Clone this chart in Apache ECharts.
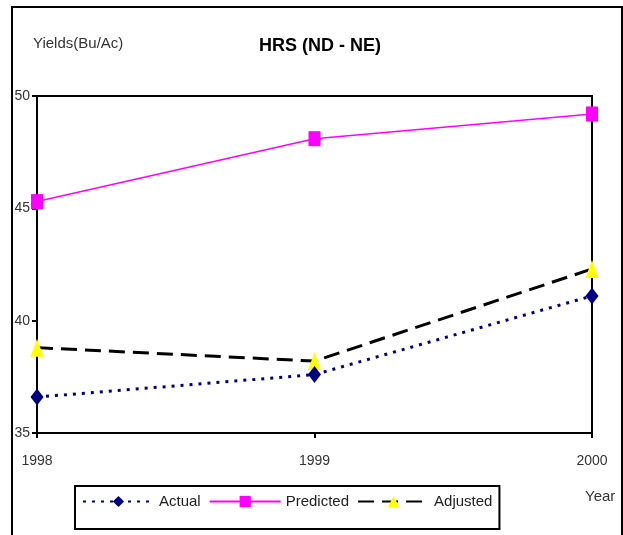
<!DOCTYPE html>
<html>
<head>
<meta charset="utf-8">
<script src="https://cdn.jsdelivr.net/npm/echarts@6/dist/echarts.min.js"></script>
<style>html,body{margin:0;padding:0;background:#fff;}#c{width:623px;height:535px;}</style>
</head>
<body>
<div id="c"></div>
<script>
const years = ['1998', '1999', '2000'];
const actual = [36.6, 37.6, 41.1];
const predicted = [45.3, 48.1, 49.2];
const adjusted = [38.8, 38.2, 42.3];
const yTicks = [35, 40, 45, 50];

const chart = echarts.init(document.getElementById('c'), null, {renderer: 'canvas'});
const font = 'Liberation Sans, Arial, sans-serif';
chart.setOption({
  animation: false,
  backgroundColor: '#fff',
  textStyle: {fontFamily: font},
  title: {
    text: 'HRS (ND - NE)', left: 315, top: 32, textAlign: 'center',
    textStyle: {fontFamily: font, fontWeight: 'bold', fontSize: 18, color: '#000'}
  },
  grid: {left: 37, top: 96, width: 555, height: 337, show: true, borderColor: '#000', borderWidth: 2, backgroundColor: 'transparent'},
  xAxis: {
    type: 'category', data: years, boundaryGap: false,
    axisLine: {lineStyle: {color: '#000', width: 2}},
    axisTick: {show: true, alignWithLabel: true, length: 5, lineStyle: {color: '#000', width: 2}},
    axisLabel: {color: '#333', fontSize: 14, fontFamily: font, margin: 21},
    splitLine: {show: false}
  },
  yAxis: {
    type: 'value', min: yTicks[0], max: yTicks[yTicks.length - 1], interval: 5,
    axisLine: {show: true, lineStyle: {color: '#000', width: 2}},
    axisTick: {show: true, length: 5, lineStyle: {color: '#000', width: 2}},
    axisLabel: {color: '#333', fontSize: 14, fontFamily: font, margin: 7},
    splitLine: {show: false}
  },
  legend: {
    left: 75, top: 486, borderColor: '#000', borderWidth: 2, padding: [8, 7, 20, 7],
    itemWidth: 71, itemHeight: 14, itemGap: 8,
    textStyle: {fontFamily: font, fontSize: 15, color: '#222'},
    data: ['Actual', 'Predicted', 'Adjusted']
  },
  graphic: [
    {type: 'rect', shape: {x: 12, y: 7, width: 610, height: 560}, style: {fill: 'none', stroke: '#000', lineWidth: 2}, z: 100},
    {type: 'text', left: 33, top: 36, style: {text: 'Yields(Bu/Ac)', font: '15px ' + font, fill: '#333'}},
    {type: 'text', left: 585, top: 489, style: {text: 'Year', font: '15px ' + font, fill: '#333'}}
  ],
  series: [
    {
      name: 'Adjusted', type: 'line', data: adjusted, symbol: 'triangle', symbolSize: [13, 18],
      itemStyle: {color: '#ffff00', borderWidth: 0},
      lineStyle: {color: '#000', width: 3, type: [16, 8]}, z: 3
    },
    {
      name: 'Actual', type: 'line', data: actual, symbol: 'diamond', symbolSize: [13, 17],
      itemStyle: {color: '#000080'},
      lineStyle: {color: '#000080', width: 3, type: [3, 6]}, z: 4
    },
    {
      name: 'Predicted', type: 'line', data: predicted, symbol: 'rect', symbolSize: [12, 15],
      itemStyle: {color: '#ff00ff'},
      lineStyle: {color: '#ff00ff', width: 1.5}, z: 5
    }
  ]
});
</script>
</body>
</html>
